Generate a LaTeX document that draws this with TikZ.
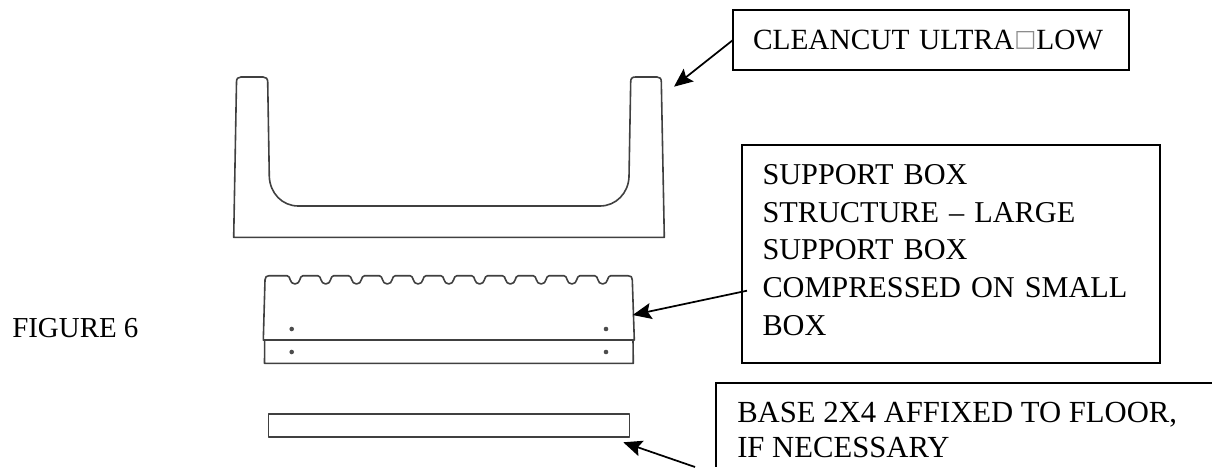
\documentclass[tikz,border=0pt]{standalone}
\usepackage{fontspec}
\setmainfont{Liberation Serif}
\newfontfamily\symfont{DejaVu Sans}
\usetikzlibrary{arrows.meta}
\begin{document}
\begin{tikzpicture}[x=0.75pt,y=-0.75pt,
  labelbox/.style={draw,line width=1.5pt,anchor=north west,outer sep=0pt,inner ysep=0pt,align=left,font=\fontsize{22.7}{28.3}\selectfont},
  part/.style={draw=black!75,line width=1.2pt,line join=round},
  pointer/.style={-{Stealth[length=14pt,width=12pt,inset=2.5pt]},line width=1.3pt}]
\useasboundingbox (0,0) rectangle (1212,467);
\def\gapbox{\raisebox{2pt}{\color{black!45}\symfont\fontsize{17.5}{17.5}\selectfont\symbol{"25A1}}}
  %the text boxes
\path
(733,10) node [labelbox,inner xsep=15pt,text width=267pt,minimum height=45pt,font=\fontsize{22}{28}\selectfont] (cleancut) {CLEANCUT ULTRA\gapbox LOW}
(741.5,145) node [labelbox,inner xsep=15.75pt,text width=282pt,minimum height=163.3pt] (support) {SUPPORT BOX\\STRUCTURE -- LARGE\\SUPPORT BOX\\COMPRESSED ON SMALL\\BOX\rule[-6pt]{0pt}{6pt}}
(737,402) node [anchor=north west,inner sep=0pt,align=left,font=\fontsize{23}{26}\selectfont] (base) {BASE 2X4 AFFIXED TO FLOOR,\\IF NECESSARY}
(12,337) node [anchor=base west,inner sep=0pt,font=\fontsize{21.7}{26}\selectfont] (figlabel) {FIGURE 6};
\draw[line width=1.5pt] (1212,382.7) -- (716,382.7) -- (716,467);
  %the u-shaped piece
\draw[part] (233.7,237.3) -- (236.5,82) .. controls (236.5,78.5) and (238,77) .. (241,77)
  -- (263,77) .. controls (266,77) and (267.7,78.5) .. (267.7,82)
  -- (269.3,176.7) .. controls (270,193) and (282,206) .. (298.3,206)
  -- (600,206) .. controls (616,206) and (628.5,193) .. (629,176.7)
  -- (630.7,82) .. controls (630.7,78.5) and (632,77) .. (635.5,77)
  -- (657,77) .. controls (660,77) and (661.3,78.5) .. (661.3,82)
  -- (664.3,237.3) -- cycle;
  %the two support boxes
\draw[part] (264.7,340) -- (264.5,363.3) -- (633.3,363.3) -- (633,340);
\draw[part] (263.3,340) -- (265,280) .. controls (265,277) and (266.5,275.7) .. (269,275.7) -- (287,275.7)
\foreach \i in {0,...,10} {
  .. controls ({291+30.77*\i},275.7) and ({289+30.77*\i},284) .. ({295+30.77*\i},284)
  .. controls ({301+30.77*\i},284) and ({299+30.77*\i},275.7) .. ({303+30.77*\i},275.7)
  -- ({317.77+30.77*\i},275.7) }
  -- (628,275.7) .. controls (631,275.7) and (632.3,277) .. (632.3,280) -- (634.3,340) -- cycle;
\foreach \px/\py in {291.7/329,606/329,291.7/352,606/352}
  \fill[black!70] (\px,\py) circle (2.3);
  %the base board
\draw[part] (268.3,413.7) rectangle (629.3,436.7);
  %arrows
\coordinate (cuttip) at (674,86.7);
\coordinate (suptail) at (747,290.7);
\coordinate (suptip) at (632.7,315);
\coordinate (basetail) at (695,467);
\coordinate (basetip) at (623.3,442.3);
\draw[pointer] (cleancut.west) -- (cuttip);
\draw[pointer] (suptail) -- (suptip);
\draw[pointer] (basetail) -- (basetip);
\end{tikzpicture}
\end{document}
